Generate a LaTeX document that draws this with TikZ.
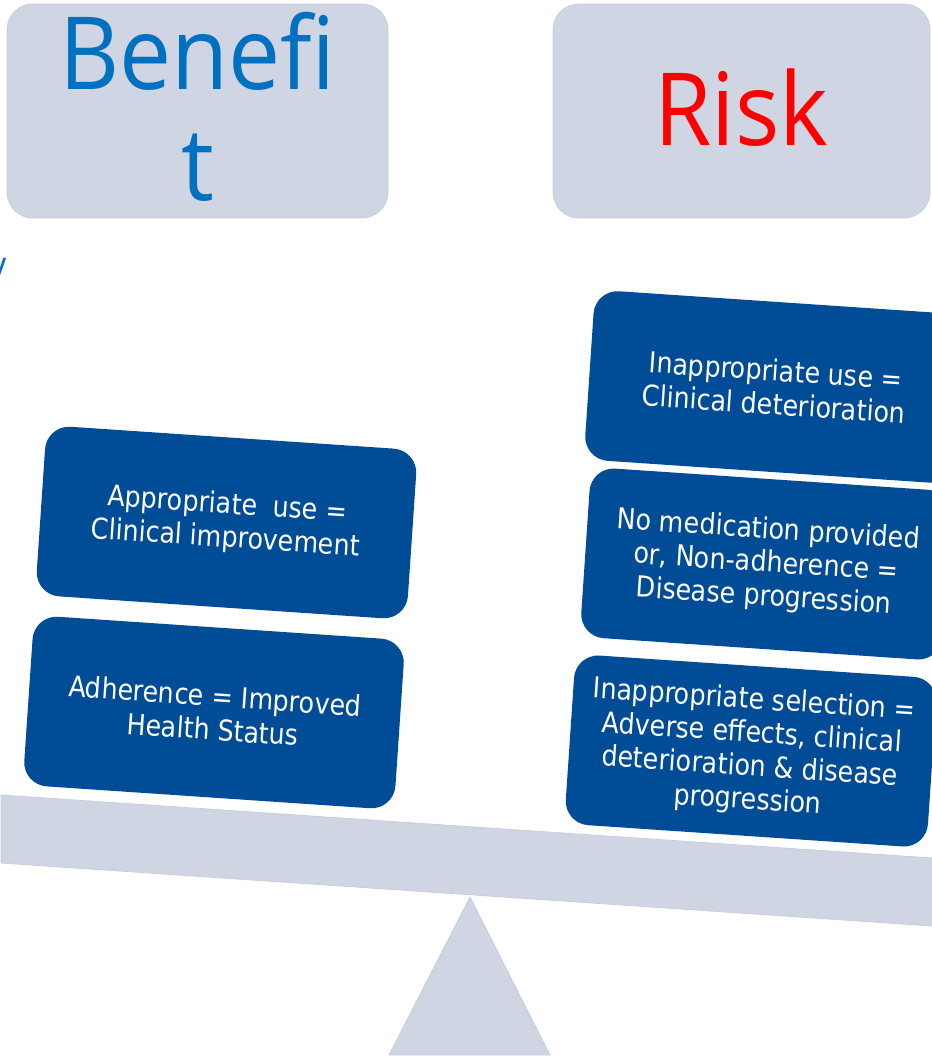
\documentclass[tikz,border=0pt]{standalone}
\usepackage{fontspec}
\setmainfont{DejaVu Sans}
\newfontfamily\boxfont{DejaVu Sans}[FakeStretch=0.88]
\newfontfamily\headfont{Open Sans}[FakeStretch=0.92]
\definecolor{headgrey}{HTML}{CFD5E2}
\definecolor{headline}{HTML}{C7CEDC}
\definecolor{boxblue}{HTML}{004C97}
\definecolor{headblue}{HTML}{0070C0}
\definecolor{riskred}{HTML}{FF0000}
\begin{document}
\begin{tikzpicture}[x=1pt,y=-1pt,
  headbox/.style={draw=headline, line width=0.8pt, fill=headgrey, rounded corners=26pt, inner sep=0pt,
    font=\headfont\fontsize{101}{111}\selectfont, align=center},
  bluebox/.style={fill=boxblue, rounded corners=24pt, text=white, align=center,
    font=\boxfont\fontsize{28.8}{33.5}\selectfont, inner sep=0pt,
    minimum width=372pt, minimum height=170pt, rotate=-3.87},
  scalepart/.style={fill=headgrey, draw=headline, line width=0.8pt}]
\useasboundingbox (0,0) rectangle (932,1058);
\clip (0,0) rectangle (932,1058);
% partly hidden letter at the left edge
\node[font=\headfont\fontsize{36}{40}\selectfont, text=headblue, inner sep=0pt, anchor=base west] (ychar) at (-10.5,277) {y};
% heading boxes
\node[headbox, minimum width=381pt, minimum height=214pt, text=headblue] (benefit) at (197.5,111) {Benefi\\t\rule[-9pt]{0pt}{9pt}};
\node[headbox, minimum width=377pt, minimum height=214pt, text=riskred] (risk) at (741.5,111) {Risk\rule[-8pt]{0pt}{8pt}};
% fulcrum and beam
\coordinate (apex) at (470,897);
\coordinate (baseL) at (389,1055);
\coordinate (baseR) at (550,1055);
\draw[scalepart] (apex) -- (baseR) -- (baseL) -- cycle;
\coordinate (beamTL) at (1,795);
\coordinate (beamTR) at (1000,862.6);
\coordinate (beamBR) at (1000,930.6);
\coordinate (beamBL) at (1,863);
\draw[scalepart] (beamTL) -- (beamTR) -- (beamBR) -- (beamBL) -- cycle;
% benefit side
\node[bluebox] (b1) at (226.5,522.5) {Appropriate\ \ use =\\Clinical improvement};
\node[bluebox] (b2) at (214,712.5) {Adherence = Improved\\Health Status};
% risk side
\node[bluebox] (r1) at (775,387) {Inappropriate use =\\Clinical deterioration};
\node[bluebox, minimum width=362pt] (r2) at (766,564) {No medication provided\\or, Non-adherence =\\Disease progression};
\node[bluebox, minimum width=363pt] (r3) at (751,751) {Inappropriate selection =\\Adverse effects, clinical\\deterioration \& disease\\progression};
\end{tikzpicture}
\end{document}
